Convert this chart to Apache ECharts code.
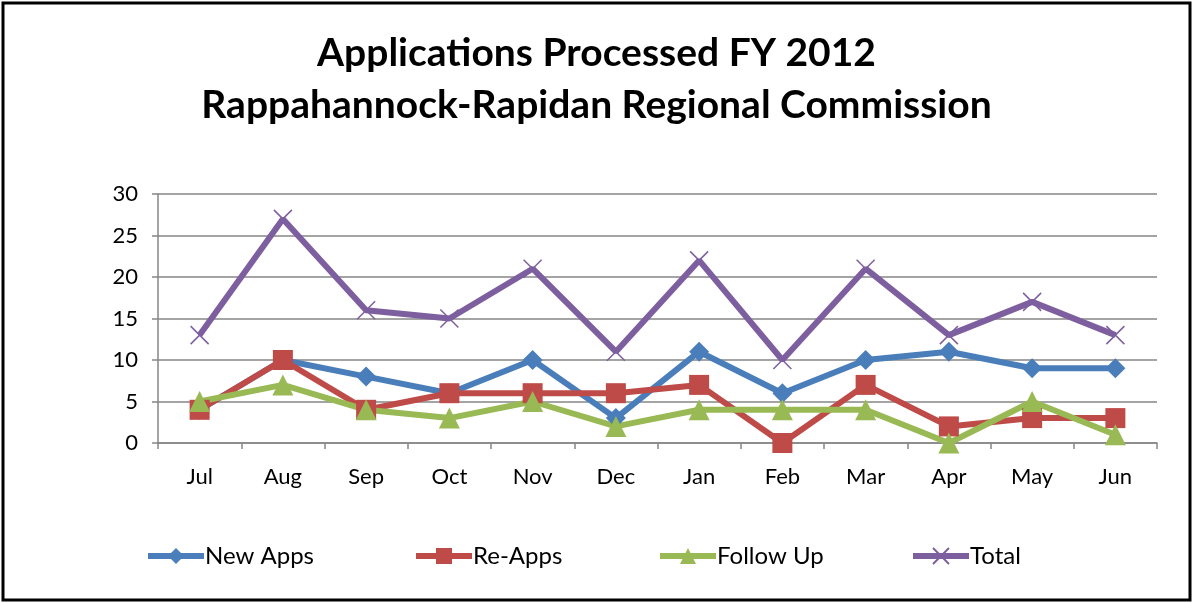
<!DOCTYPE html>
<html>
<head>
<meta charset="utf-8">
<script src="https://cdn.jsdelivr.net/npm/echarts@6/dist/echarts.min.js"></script>
<style>
  html, body { margin: 0; padding: 0; background: #fff; }
  #chart { width: 1193px; height: 603px; }
</style>
</head>
<body>
<div id="chart"></div>
<script>
// month categories, fiscal year starts in July
var months = ['Jul', 'Aug', 'Sep', 'Oct', 'Nov', 'Dec', 'Jan', 'Feb', 'Mar', 'Apr', 'May', 'Jun'];

var newApps  = [4, 10, 8, 6, 10, 3, 11, 6, 10, 11, 9, 9];
var reApps   = [4, 10, 4, 6, 6, 6, 7, 0, 7, 2, 3, 3];
var followUp = [5, 7, 4, 3, 5, 2, 4, 4, 4, 0, 5, 1];
var total    = [13, 27, 16, 15, 21, 11, 22, 10, 21, 13, 17, 13];

var font = 'Lato, "Open Sans", sans-serif';
var crossPath = 'path://M0,0L10,10M10,0L0,10';

function lineSeries(name, data, color, symbol, size) {
  return {
    name: name,
    type: 'line',
    data: data,
    symbol: symbol,
    symbolSize: size,
    showAllSymbol: true,
    lineStyle: { color: color, width: 6 },
    itemStyle: { color: color, borderColor: color, borderWidth: symbol === crossPath ? 1.5 : 0 },
    emphasis: { disabled: true },
    animation: false
  };
}

function legendAt(name, left) {
  return {
    data: [name],
    left: left,
    top: 539,
    itemWidth: 56,
    itemHeight: 20,
    itemGap: 0,
    lineStyle: { width: 6 },
    textStyle: { fontFamily: font, fontSize: 24, color: '#000', padding: [0, 0, 0, -4] }
  };
}

var chart = echarts.init(document.getElementById('chart'));
chart.setOption({
  backgroundColor: '#fff',
  title: {
    text: 'Applications Processed FY 2012\nRappahannock-Rapidan Regional Commission',
    left: 'center',
    top: 22,
    textStyle: { fontFamily: font, fontSize: 39, fontWeight: 'bold', color: '#000', lineHeight: 52 }
  },
  graphic: [{
    type: 'rect',
    shape: { x: 3, y: 3, width: 1187, height: 597 },
    style: { fill: 'none', stroke: '#000', lineWidth: 3 },
    silent: true
  }],
  legend: [
    legendAt('New Apps', 140),
    legendAt('Re-Apps', 408),
    legendAt('Follow Up', 652),
    legendAt('Total', 905)
  ],
  grid: { left: 158, right: 36, top: 194, bottom: 160 },
  xAxis: {
    type: 'category',
    data: months,
    boundaryGap: true,
    axisLine: { lineStyle: { color: '#868686', width: 1.5 } },
    axisTick: { show: true, length: 6, lineStyle: { color: '#868686', width: 1.5 } },
    axisLabel: { fontFamily: font, fontSize: 22, color: '#000', margin: 23 }
  },
  yAxis: {
    type: 'value',
    min: 0,
    max: 30,
    interval: 5,
    axisLine: { show: true, lineStyle: { color: '#868686', width: 1.5 } },
    axisTick: { show: true, length: 6, lineStyle: { color: '#868686', width: 1.5 } },
    splitLine: { lineStyle: { color: '#868686', width: 1.5 } },
    axisLabel: { fontFamily: font, fontSize: 22, color: '#000', margin: 20 }
  },
  series: [
    lineSeries('New Apps', newApps, '#4A7EBB', 'diamond', 20),
    lineSeries('Re-Apps', reApps, '#BE4B48', 'rect', 20),
    lineSeries('Follow Up', followUp, '#98B954', 'triangle', 21),
    lineSeries('Total', total, '#7D5FA0', crossPath, 18)
  ]
});
</script>
</body>
</html>
